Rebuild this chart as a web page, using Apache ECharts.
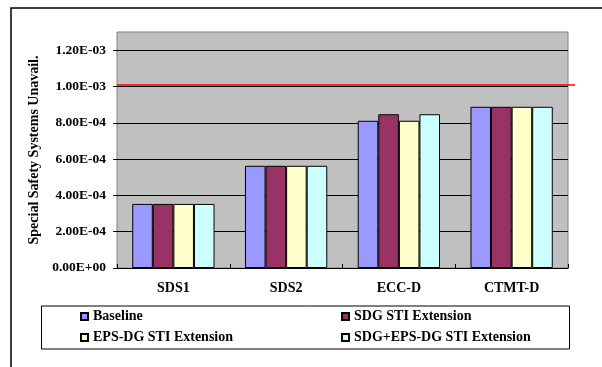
<!DOCTYPE html>
<html>
<head>
<meta charset="utf-8">
<script src="https://cdn.jsdelivr.net/npm/echarts@6/dist/echarts.min.js"></script>
<style>
  html, body { margin: 0; padding: 0; background: #fff; }
  #chart { width: 602px; height: 367px; }
</style>
</head>
<body>
<div id="chart"></div>
<script>
// Systems and the four maintenance configurations compared
const categories = ['SDS1', 'SDS2', 'ECC-D', 'CTMT-D'];
const seriesNames = ['Baseline', 'SDG STI Extension', 'EPS-DG STI Extension', 'SDG+EPS-DG STI Extension'];
const baseline  = [3.53e-4, 5.63e-4, 8.11e-4, 8.88e-4];
const sdgExt    = [3.53e-4, 5.63e-4, 8.47e-4, 8.88e-4];
const epsDgExt  = [3.53e-4, 5.63e-4, 8.11e-4, 8.88e-4];
const bothExt   = [3.53e-4, 5.63e-4, 8.47e-4, 8.88e-4];
const seriesValues = [baseline, sdgExt, epsDgExt, bothExt];
const seriesColors = ['#9999FF', '#993366', '#FFFFCC', '#CCFFFF'];
// Unavailability target drawn as a red reference line
const targetLimit = 1.0e-3;
const yTicks = { min: 0, max: 1.3e-3, interval: 2e-4 };

const FONT = "'Liberation Serif', 'Times New Roman', serif";

function sci(v) {
  if (v === 0) return '0.00E+00';
  const exp = Math.floor(Math.log10(Math.abs(v)) + 1e-9);
  const mant = v / Math.pow(10, exp);
  const sign = exp < 0 ? '-' : '+';
  const e = Math.abs(exp);
  return mant.toFixed(2) + 'E' + sign + (e < 10 ? '0' + e : e);
}

const GRID = { left: 117, right: 34, top: 32, bottom: 99 };

const chart = echarts.init(document.getElementById('chart'), null, { renderer: 'canvas' });

const series = seriesNames.map((name, i) => ({
  name: name,
  type: 'bar',
  data: seriesValues[i],
  barGap: '0%',
  barCategoryGap: '27%',
  itemStyle: { color: seriesColors[i], borderColor: '#000', borderWidth: 1 }
}));

const legendText = { fontFamily: FONT, fontWeight: 'bold', fontSize: 14, color: '#000' };
const legendCommon = {
  orient: 'vertical',
  icon: 'rect',
  itemWidth: 7,
  itemHeight: 7,
  itemGap: 7,
  selectedMode: false,
  textStyle: legendText,
  padding: 0
};

chart.setOption({
  animation: false,
  backgroundColor: '#fff',
  grid: Object.assign({
    show: true,
    backgroundColor: '#C0C0C0',
    borderColor: '#808080',
    borderWidth: 1
  }, GRID),
  legend: [
    Object.assign({ left: 80, top: 309.5, data: [seriesNames[0], seriesNames[2]] }, legendCommon),
    Object.assign({ left: 341, top: 309.5, data: [seriesNames[1], seriesNames[3]] }, legendCommon)
  ],
  xAxis: {
    type: 'category',
    data: categories,
    axisLine: { lineStyle: { color: '#000', width: 1 } },
    axisTick: { show: true, inside: true, length: 4, lineStyle: { color: '#000' } },
    axisLabel: { fontFamily: FONT, fontWeight: 'bold', fontSize: 14, color: '#000', margin: 13 }
  },
  yAxis: {
    type: 'value',
    min: yTicks.min,
    max: yTicks.max,
    interval: yTicks.interval,
    name: 'Special Safety Systems Unavail.',
    nameLocation: 'middle',
    nameGap: 72,
    nameTextStyle: { fontFamily: FONT, fontWeight: 'bold', fontSize: 14, color: '#000' },
    axisLine: { show: false },
    axisTick: { show: true, length: 4, lineStyle: { color: '#000' } },
    axisLabel: {
      fontFamily: FONT, fontWeight: 'bold', fontSize: 13.5, color: '#000', margin: 11,
      showMaxLabel: false,
      formatter: sci
    },
    splitLine: { show: true, showMaxLine: false, showMinLine: false, lineStyle: { color: '#000', width: 1 } }
  },
  series: series
});

// Outer frame, legend box and the target line (placed through the y scale)
const yTarget = chart.convertToPixel({ yAxisIndex: 0 }, targetLimit);
const W = chart.getWidth();
const plotLeft = GRID.left;
const plotRight = W - GRID.right;
chart.setOption({
  graphic: [
    { type: 'rect', z: -1, shape: { x: 11, y: 8, width: 700, height: 500 },
      style: { fill: 'none', stroke: '#000', lineWidth: 1.5 } },
    { type: 'rect', shape: { x: 41.5, y: 306, width: 528, height: 43 },
      style: { fill: 'none', stroke: '#000', lineWidth: 1 } },
    { type: 'line', z: 100, shape: { x1: plotLeft, y1: yTarget - 1.5, x2: plotRight + 7, y2: yTarget - 1.5 },
      style: { stroke: '#FF0000', lineWidth: 1.5 } }
  ]
});
</script>
</body>
</html>
